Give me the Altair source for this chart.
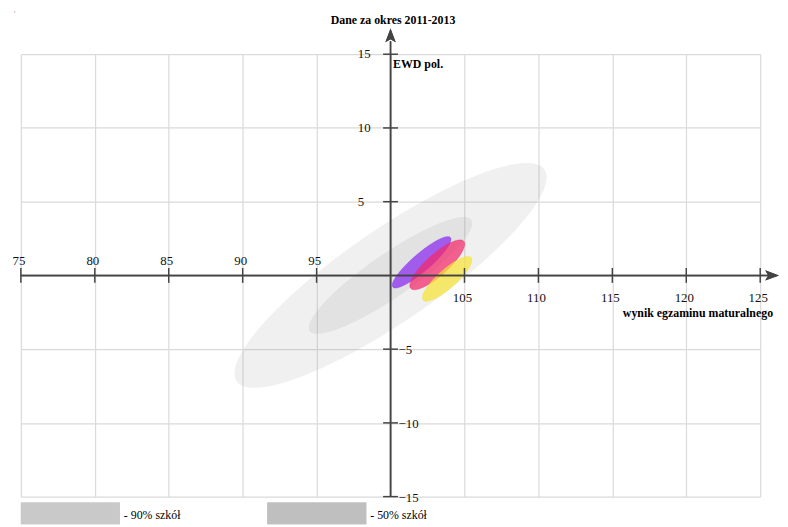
import altair as alt
import numpy as np
import pandas as pd

# ---- axis ticks / labels ----
x_grid = [75, 80, 85, 90, 95, 100, 105, 110, 115, 120, 125]
y_grid = [-15, -10, -5, 0, 5, 10, 15]
x_labels_above = [75, 80, 85, 90, 95]
x_labels_below = [105, 110, 115, 120, 125]
y_labels_pos = [15, 10, 5]
y_labels_neg = [-5, -10, -15]
x_ticks = [75, 80, 85, 90, 95, 105, 110, 115, 120, 125]
y_ticks = [15, 10, 5, -5, -10, -15]

# ---- ellipses (centre, semi-axes in data units, tilt in degrees) ----
ell_names = ["90% szkół", "50% szkół", "szkoła A", "szkoła B", "szkoła C"]
ell_cx = [100.0, 100.0, 102.1, 103.16, 103.83]
ell_cy = [0.0, 0.0, 0.89, 0.72, -0.23]
ell_a = [12.64, 6.64, 2.57, 2.40, 2.17]
ell_b = [3.12, 1.47, 0.60, 0.72, 0.63]
ell_angle = [34.6, 34.6, 40.8, 41.8, 41.7]
ell_fill = ["#808080", "#808080", "#8828f0", "#f3286b", "#f7e335"]
ell_opacity = [0.12, 0.12, 0.72, 0.72, 0.72]

legend_labels = ["- 90% szkół", "- 50% szkół"]
legend_colors = ["#c9c9c9", "#bfbfbf"]

FONT = "Liberation Serif"
AX = "#444444"


def ellipse_band(cx, cy, a, b, ang, n=260):
    t = np.radians(ang)
    c, s = np.cos(t), np.sin(t)
    xh = np.sqrt(a * a * c * c + b * b * s * s)
    dx = -xh * np.cos(np.linspace(0, np.pi, n))
    A = s * s / a ** 2 + c * c / b ** 2
    B = 2 * dx * c * s * (1 / a ** 2 - 1 / b ** 2)
    C = dx * dx * (c * c / a ** 2 + s * s / b ** 2) - 1
    disc = np.sqrt(np.clip(B * B - 4 * A * C, 0, None))
    return pd.DataFrame({
        "x": cx + dx,
        "y": cy + (-B + disc) / (2 * A),
        "y2": cy + (-B - disc) / (2 * A),
    })


xs = alt.Scale(domain=[75, 125], nice=False, zero=False)
ys = alt.Scale(domain=[-15, 15], nice=False, zero=False)

layers = []

# grid layer
grid_df = pd.DataFrame({"x": [75, 125], "y": [-15, 15]})
grid = alt.Chart(grid_df).mark_point(opacity=0).encode(
    x=alt.X("x:Q", scale=xs, axis=alt.Axis(values=x_grid, grid=True, labels=False, ticks=False,
                                           domain=False, title=None, gridColor="#dadada", gridWidth=1.2)),
    y=alt.Y("y:Q", scale=ys, axis=alt.Axis(values=y_grid, grid=True, labels=False, ticks=False,
                                           domain=False, title=None, gridColor="#dadada", gridWidth=1.2)),
)
layers.append(grid)

for i in range(len(ell_names)):
    df = ellipse_band(ell_cx[i], ell_cy[i], ell_a[i], ell_b[i], ell_angle[i])
    colored = i >= 2
    layers.append(
        alt.Chart(df).mark_area(
            orient="vertical", fill=ell_fill[i], fillOpacity=ell_opacity[i],
            stroke=ell_fill[i] if colored else None,
            strokeWidth=0.8, strokeOpacity=0.5 if colored else 0,
        ).encode(
            x=alt.X("x:Q", scale=xs),
            y=alt.Y("y:Q", scale=ys),
            y2="y2:Q",
        )
    )

# axis lines
layers.append(alt.Chart(grid_df).mark_rule(color=AX, strokeWidth=1.5).encode(
    x=alt.datum(100, scale=xs), y=alt.value(-13), y2=alt.value(447)))
layers.append(alt.Chart(grid_df).mark_rule(color=AX, strokeWidth=1.5).encode(
    y=alt.datum(0, scale=ys), x=alt.value(0), x2=alt.value(757)))

# arrow heads
layers.append(alt.Chart(grid_df).mark_point(
    shape="M0,-1 L0.75,1 L0,0.55 L-0.75,1 Z", filled=True, size=196, color=AX, opacity=1
).encode(x=alt.datum(100, scale=xs), y=alt.value(-19)))
layers.append(alt.Chart(grid_df).mark_point(
    shape="M1,0 L-1,-0.75 L-0.55,0 L-1,0.75 Z", filled=True, size=196, color=AX, opacity=1
).encode(y=alt.datum(0, scale=ys), x=alt.value(759)))

# ticks
layers.append(alt.Chart(pd.DataFrame({"x": x_ticks})).mark_tick(
    orient="vertical", size=15, thickness=1.5, color=AX, opacity=1
).encode(x=alt.X("x:Q", scale=xs), y=alt.datum(0, scale=ys)))
layers.append(alt.Chart(pd.DataFrame({"y": y_ticks})).mark_tick(
    orient="horizontal", size=15, thickness=1.5, color=AX, opacity=1
).encode(y=alt.Y("y:Q", scale=ys), x=alt.datum(100, scale=xs)))

# tick labels
layers.append(alt.Chart(pd.DataFrame({"x": x_labels_above})).mark_text(
    font=FONT, fontSize=13, align="center", baseline="middle", dx=-2, dy=-15, color="#111"
).encode(x=alt.X("x:Q", scale=xs), y=alt.datum(0, scale=ys), text="x:Q"))
layers.append(alt.Chart(pd.DataFrame({"x": x_labels_below})).mark_text(
    font=FONT, fontSize=13, align="center", baseline="middle", dx=-2, dy=23, color="#111"
).encode(x=alt.X("x:Q", scale=xs), y=alt.datum(0, scale=ys), text="x:Q"))
layers.append(alt.Chart(pd.DataFrame({"y": y_labels_pos})).mark_text(
    font=FONT, fontSize=13, align="left", baseline="middle", dx=-33, dy=0, color="#111"
).encode(y=alt.Y("y:Q", scale=ys), x=alt.datum(100, scale=xs), text="y:Q"))
layers.append(alt.Chart(pd.DataFrame({"y": y_labels_neg})).mark_text(
    font=FONT, fontSize=13, align="left", baseline="middle", dx=8, dy=1, color="#111"
).encode(y=alt.Y("y:Q", scale=ys), x=alt.datum(100, scale=xs), text="y:Q"))

# annotations
def label(txt, x, y, align="left", bold=True, size=12, color="#000"):
    return alt.Chart(pd.DataFrame({"t": [txt]})).mark_text(
        font=FONT, fontSize=size, fontWeight="bold" if bold else "normal",
        align=align, baseline="middle", color=color
    ).encode(x=alt.value(x), y=alt.value(y), text="t:N")

layers.append(label("Dane za okres 2011-2013", 376, -35, align="center"))
layers.append(label("EWD pol.", 376, 10))
layers.append(label("wynik egzaminu maturalnego", 760, 262, align="right"))
layers.append(label("'", -7, -40, bold=False, size=8, color="#999"))

# legend
leg_x0 = [0, 249]
for i in range(2):
    layers.append(alt.Chart(grid_df).mark_rect(color=legend_colors[i]).encode(
        x=alt.value(leg_x0[i]), x2=alt.value(leg_x0[i] + 100), y=alt.value(453), y2=alt.value(475)))
    layers.append(label(legend_labels[i], leg_x0[i] + 104, 466, bold=False, size=12))

chart = alt.layer(*layers).properties(
    width=747, height=447,
    autosize=alt.AutoSizeParams(type="none"),
    padding={"left": 13, "top": 44, "right": 20, "bottom": 28},
).configure_view(stroke=None)

chart.save("out.html", embed_options={"renderer": "svg", "actions": False})
